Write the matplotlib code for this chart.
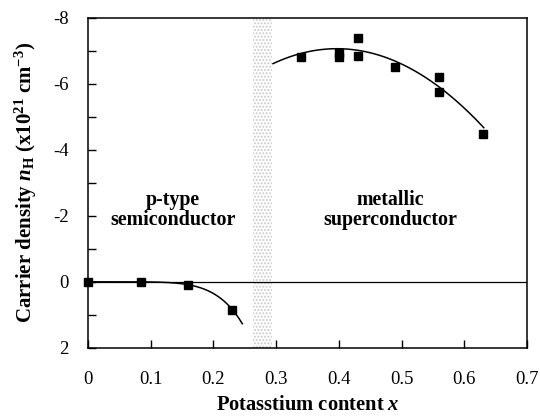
import numpy as np
import matplotlib.pyplot as plt

plt.rcParams['font.family'] = ['Liberation Serif', 'DejaVu Serif']
plt.rcParams['mathtext.fontset'] = 'custom'
plt.rcParams['mathtext.rm'] = 'Liberation Serif:bold'
plt.rcParams['mathtext.it'] = 'Liberation Serif:italic:bold'
plt.rcParams['mathtext.bf'] = 'Liberation Serif:bold'
plt.rcParams['hatch.linewidth'] = 1.0

# p-type semiconductor side
x_semi = [0.0, 0.085, 0.16, 0.23]
n_semi = [0.0, 0.01, 0.09, 0.84]

# metallic superconductor side
x_metal = [0.34, 0.40, 0.40, 0.43, 0.43, 0.49, 0.56, 0.56, 0.63]
n_metal = [-6.81, -6.95, -6.81, -7.38, -6.83, -6.50, -6.21, -5.75, -4.48]

# guide line through the metallic side
x_guide = [0.295, 0.39, 0.49, 0.56, 0.631]
n_guide = [-6.6, -7.1, -6.66, -5.9, -4.68]

# boundary region between the two phases
x_band = (0.263, 0.294)

fig, ax = plt.subplots(figsize=(5.4, 4.16), dpi=100)
fig.subplots_adjust(left=0.163, right=0.976, top=0.957, bottom=0.164)

ax.axvspan(*x_band, facecolor='white', edgecolor='#cccccc', hatch='.....', lw=0, zorder=1)
ax.axhline(0, color='black', lw=0.9, zorder=2)

# power-law trend for the semiconductor points
xs, ns = np.array(x_semi[2:]), np.array(n_semi[2:])
k, logc = np.polyfit(np.log(xs), np.log(ns), 1)
xf = np.linspace(0, 0.246, 200)
ax.plot(xf, np.exp(logc) * xf ** k, color='black', lw=1.1, zorder=3)

# quadratic guide for the metallic points
p = np.polyfit(x_guide, n_guide, 2)
xm = np.linspace(x_guide[0], x_guide[-1], 200)
ax.plot(xm, np.polyval(p, xm), color='black', lw=1.1, zorder=3)

ax.plot(x_semi, n_semi, 's', color='black', ms=6, zorder=4, clip_on=False)
ax.plot(x_metal, n_metal, 's', color='black', ms=6, zorder=4)

ax.set_xlim(0, 0.7)
ax.set_ylim(2, -8)
ax.set_xticks(np.arange(0, 0.71, 0.1))
ax.set_xticklabels(['0', '0.1', '0.2', '0.3', '0.4', '0.5', '0.6', '0.7'])
ax.set_yticks(np.arange(-8, 2.1, 2))
ax.set_yticklabels(['-8', '-6', '-4', '-2', '0', '2'])
ax.set_yticks(np.arange(-7, 2, 2), minor=True)
ax.tick_params(direction='in', length=6, width=1, labelsize=13.5)
ax.tick_params(which='minor', direction='in', length=6, width=1)
ax.tick_params(axis='x', pad=17)
ax.tick_params(axis='y', pad=14)
for s in ax.spines.values():
    s.set_linewidth(1.1)

ax.text(0.135, -2.18, 'p-type\nsemiconductor', ha='center', va='center',
        fontsize=14.4, fontweight='bold', linespacing=1.0)
ax.text(0.482, -2.18, 'metallic\nsuperconductor', ha='center', va='center',
        fontsize=14.4, fontweight='bold', linespacing=1.0)

ax.set_xlabel(r'Potasstium content $x$', fontsize=14.8, fontweight='bold', labelpad=5)
ax.set_ylabel(r'Carrier density $n_{\rm H}$ (x10$^{21}$ cm$^{-3}$)',
              fontsize=15, fontweight='bold', labelpad=10)

fig.savefig('out.png', dpi=100)
